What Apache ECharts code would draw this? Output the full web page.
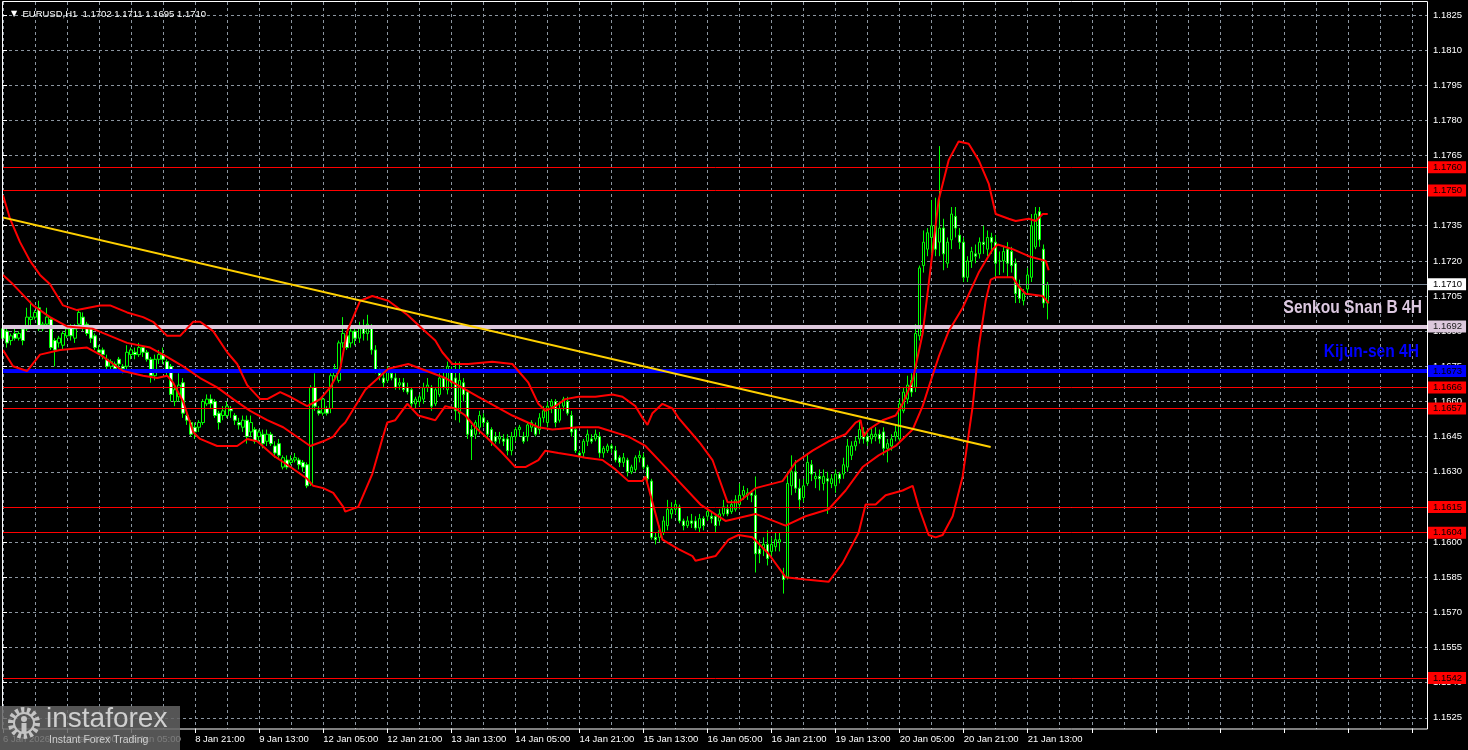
<!DOCTYPE html>
<html><head><meta charset="utf-8">
<script src="https://cdn.jsdelivr.net/npm/echarts@6/dist/echarts.min.js"></script>
<style>html,body{margin:0;padding:0;background:#000}#c{width:1468px;height:750px}</style>
</head><body><div id="c"></div>
<script>
// ---------- DATA (EURUSD H1) ----------
const openP = [
1.1691,1.1690,1.1686,1.1689,1.1687,1.1691,1.1691,1.1695,1.1696,1.1700,
1.1691,1.1693,1.1695,1.1686,1.1685,1.1684,1.1688,1.1692,1.1687,1.1693,
1.1696,1.1693,1.1691,1.1688,1.1682,1.1682,1.1678,1.1675,1.1676,1.1678,
1.1675,1.1675,1.1680,1.1681,1.1680,1.1683,1.1681,1.1678,1.1671,1.1678,
1.1680,1.1677,1.1675,1.1660,1.1662,1.1668,1.1654,1.1651,1.1649,1.1649,
1.1651,1.1659,1.1661,1.1660,1.1655,1.1654,1.1654,1.1657,1.1654,1.1651,
1.1649,1.1652,1.1647,1.1648,1.1645,1.1646,1.1643,1.1646,1.1641,1.1642,
1.1632,1.1635,1.1634,1.1635,1.1635,1.1634,1.1633,1.1625,1.1666,1.1656,
1.1655,1.1657,1.1657,1.1671,1.1669,1.1685,1.1688,1.1685,1.1690,1.1687,
1.1692,1.1689,1.1692,1.1682,1.1672,1.1670,1.1669,1.1672,1.1670,1.1667,
1.1668,1.1666,1.1665,1.1659,1.1660,1.1661,1.1666,1.1666,1.1659,1.1663,
1.1670,1.1665,1.1673,1.1670,1.1655,1.1668,1.1664,1.1648,1.1646,1.1649,
1.1653,1.1651,1.1648,1.1645,1.1644,1.1644,1.1644,1.1639,1.1645,1.1648,
1.1645,1.1645,1.1649,1.1649,1.1648,1.1653,1.1651,1.1658,1.1660,1.1652,
1.1658,1.1660,1.1654,1.1648,1.1638,1.1638,1.1643,1.1644,1.1644,1.1645,
1.1638,1.1639,1.1641,1.1639,1.1636,1.1634,1.1635,1.1630,1.1631,1.1636,
1.1636,1.1632,1.1626,1.1602,1.1602,1.1604,1.1607,1.1612,1.1614,1.1615,
1.1609,1.1607,1.1609,1.1609,1.1606,1.1610,1.1611,1.1611,1.1611,1.1609,
1.1612,1.1614,1.1613,1.1614,1.1616,1.1620,1.1620,1.1621,1.1620,1.1597,
1.1597,1.1599,1.1596,1.1598,1.1600,1.1586,1.1585,1.1624,1.1630,1.1623,
1.1619,1.1625,1.1633,1.1627,1.1628,1.1625,1.1627,1.1625,1.1624,1.1629,
1.1629,1.1632,1.1637,1.1641,1.1644,1.1647,1.1645,1.1644,1.1645,1.1646,
1.1647,1.1640,1.1641,1.1645,1.1644,1.1656,1.1661,1.1669,1.1666,1.1688,
1.1718,1.1725,1.1730,1.1735,1.1728,1.1734,1.1719,1.1729,1.1739,1.1731,
1.1728,1.1713,1.1720,1.1723,1.1723,1.1728,1.1725,1.1730,1.1728,1.1720,
1.1720,1.1725,1.1724,1.1719,1.1709,1.1703,1.1708,1.1713,1.1726,1.1741,
1.1725,1.1702];
const highP = [
1.1692,1.1691,1.1689,1.1691,1.1690,1.1692,1.1700,1.1703,1.1699,1.1703,
1.1694,1.1700,1.1696,1.1687,1.1688,1.1690,1.1692,1.1693,1.1693,1.1699,
1.1698,1.1694,1.1692,1.1689,1.1684,1.1683,1.1680,1.1678,1.1677,1.1679,
1.1676,1.1684,1.1683,1.1683,1.1685,1.1684,1.1682,1.1679,1.1680,1.1682,
1.1683,1.1678,1.1676,1.1667,1.1672,1.1670,1.1656,1.1652,1.1651,1.1652,
1.1661,1.1663,1.1663,1.1661,1.1656,1.1658,1.1660,1.1658,1.1655,1.1653,
1.1654,1.1654,1.1654,1.1649,1.1648,1.1648,1.1648,1.1647,1.1643,1.1644,
1.1637,1.1637,1.1637,1.1638,1.1636,1.1635,1.1634,1.1667,1.1672,1.1658,
1.1662,1.1658,1.1672,1.1676,1.1686,1.1696,1.1690,1.1692,1.1692,1.1694,
1.1695,1.1697,1.1693,1.1684,1.1674,1.1672,1.1675,1.1674,1.1672,1.1670,
1.1670,1.1668,1.1666,1.1662,1.1663,1.1668,1.1670,1.1667,1.1666,1.1672,
1.1674,1.1677,1.1675,1.1677,1.1677,1.1670,1.1665,1.1650,1.1652,1.1656,
1.1655,1.1652,1.1649,1.1647,1.1647,1.1646,1.1646,1.1647,1.1649,1.1650,
1.1647,1.1651,1.1652,1.1651,1.1655,1.1658,1.1660,1.1661,1.1661,1.1660,
1.1662,1.1662,1.1656,1.1649,1.1639,1.1644,1.1648,1.1646,1.1648,1.1647,
1.1641,1.1642,1.1642,1.1641,1.1637,1.1638,1.1636,1.1633,1.1637,1.1639,
1.1638,1.1633,1.1627,1.1604,1.1607,1.1611,1.1618,1.1617,1.1618,1.1616,
1.1610,1.1611,1.1612,1.1611,1.1612,1.1611,1.1615,1.1613,1.1612,1.1614,
1.1618,1.1616,1.1618,1.1620,1.1625,1.1624,1.1623,1.1622,1.1628,1.1601,
1.1602,1.1605,1.1602,1.1604,1.1604,1.1589,1.1630,1.1637,1.1635,1.1627,
1.1627,1.1638,1.1635,1.1630,1.1631,1.1631,1.1630,1.1629,1.1631,1.1630,
1.1636,1.1644,1.1643,1.1645,1.1652,1.1649,1.1647,1.1649,1.1649,1.1648,
1.1649,1.1644,1.1646,1.1650,1.1661,1.1666,1.1671,1.1672,1.1693,1.1718,
1.1733,1.1734,1.1746,1.1747,1.1769,1.1738,1.1730,1.1743,1.1743,1.1734,
1.1730,1.1722,1.1726,1.1727,1.1730,1.1735,1.1733,1.1732,1.1731,1.1724,
1.1726,1.1728,1.1726,1.1721,1.1712,1.1708,1.1717,1.1740,1.1743,1.1743,
1.1727,1.1711];
const lowP = [
1.1685,1.1683,1.1684,1.1686,1.1686,1.1684,1.1690,1.1691,1.1695,1.1690,
1.1690,1.1692,1.1682,1.1675,1.1683,1.1682,1.1687,1.1686,1.1685,1.1691,
1.1690,1.1688,1.1685,1.1682,1.1680,1.1678,1.1673,1.1673,1.1673,1.1673,
1.1672,1.1673,1.1678,1.1678,1.1679,1.1679,1.1677,1.1668,1.1669,1.1676,
1.1676,1.1671,1.1660,1.1658,1.1660,1.1653,1.1650,1.1645,1.1644,1.1647,
1.1650,1.1658,1.1657,1.1653,1.1648,1.1652,1.1653,1.1653,1.1650,1.1648,
1.1647,1.1642,1.1645,1.1642,1.1643,1.1640,1.1641,1.1641,1.1636,1.1636,
1.1631,1.1631,1.1633,1.1634,1.1631,1.1630,1.1623,1.1624,1.1656,1.1654,
1.1654,1.1654,1.1655,1.1670,1.1668,1.1683,1.1682,1.1683,1.1684,1.1685,
1.1686,1.1686,1.1680,1.1672,1.1669,1.1666,1.1668,1.1669,1.1665,1.1665,
1.1664,1.1663,1.1657,1.1657,1.1658,1.1659,1.1664,1.1656,1.1658,1.1662,
1.1665,1.1663,1.1666,1.1652,1.1651,1.1660,1.1644,1.1635,1.1644,1.1646,
1.1649,1.1644,1.1641,1.1642,1.1642,1.1641,1.1637,1.1637,1.1643,1.1645,
1.1642,1.1643,1.1647,1.1645,1.1646,1.1651,1.1649,1.1655,1.1649,1.1651,
1.1656,1.1654,1.1645,1.1638,1.1636,1.1636,1.1641,1.1642,1.1643,1.1636,
1.1636,1.1638,1.1638,1.1634,1.1632,1.1632,1.1628,1.1629,1.1630,1.1634,
1.1631,1.1625,1.1601,1.1599,1.1600,1.1603,1.1605,1.1610,1.1612,1.1608,
1.1605,1.1606,1.1606,1.1605,1.1604,1.1605,1.1609,1.1608,1.1604,1.1607,
1.1611,1.1611,1.1612,1.1613,1.1614,1.1618,1.1618,1.1617,1.1587,1.1591,
1.1594,1.1590,1.1594,1.1596,1.1596,1.1578,1.1584,1.1620,1.1621,1.1614,
1.1617,1.1624,1.1626,1.1623,1.1622,1.1622,1.1612,1.1623,1.1621,1.1625,
1.1627,1.1630,1.1635,1.1639,1.1642,1.1642,1.1641,1.1642,1.1643,1.1642,
1.1637,1.1634,1.1639,1.1643,1.1643,1.1655,1.1659,1.1662,1.1664,1.1686,
1.1715,1.1722,1.1723,1.1722,1.1722,1.1716,1.1717,1.1725,1.1730,1.1725,
1.1711,1.1711,1.1717,1.1719,1.1721,1.1723,1.1722,1.1723,1.1713,1.1714,
1.1715,1.1713,1.1715,1.1702,1.1702,1.1701,1.1706,1.1711,1.1725,1.1726,
1.1700,1.1695];
const closeP = [
1.1687,1.1685,1.1688,1.1687,1.1689,1.1686,1.1696,1.1696,1.1698,1.1691,
1.1693,1.1696,1.1683,1.1682,1.1687,1.1689,1.1691,1.1688,1.1691,1.1698,
1.1692,1.1689,1.1687,1.1683,1.1681,1.1680,1.1675,1.1677,1.1674,1.1676,
1.1674,1.1681,1.1682,1.1680,1.1683,1.1681,1.1678,1.1671,1.1678,1.1680,
1.1678,1.1673,1.1663,1.1665,1.1667,1.1655,1.1652,1.1646,1.1647,1.1651,
1.1660,1.1661,1.1659,1.1654,1.1651,1.1656,1.1658,1.1656,1.1652,1.1650,
1.1652,1.1645,1.1651,1.1643,1.1647,1.1642,1.1646,1.1642,1.1638,1.1637,
1.1636,1.1632,1.1635,1.1636,1.1633,1.1632,1.1624,1.1666,1.1658,1.1655,
1.1661,1.1655,1.1671,1.1674,1.1685,1.1689,1.1683,1.1690,1.1687,1.1692,
1.1689,1.1693,1.1682,1.1673,1.1671,1.1668,1.1673,1.1670,1.1666,1.1668,
1.1665,1.1664,1.1659,1.1661,1.1662,1.1666,1.1667,1.1658,1.1665,1.1670,
1.1666,1.1675,1.1668,1.1656,1.1669,1.1663,1.1646,1.1645,1.1651,1.1654,
1.1651,1.1646,1.1643,1.1643,1.1645,1.1643,1.1639,1.1645,1.1648,1.1649,
1.1643,1.1650,1.1651,1.1646,1.1653,1.1656,1.1658,1.1660,1.1651,1.1657,
1.1661,1.1655,1.1647,1.1639,1.1637,1.1643,1.1646,1.1643,1.1646,1.1638,
1.1640,1.1641,1.1640,1.1635,1.1634,1.1636,1.1630,1.1632,1.1636,1.1637,
1.1632,1.1627,1.1602,1.1601,1.1605,1.1609,1.1614,1.1614,1.1616,1.1609,
1.1607,1.1609,1.1608,1.1606,1.1610,1.1607,1.1613,1.1610,1.1607,1.1612,
1.1615,1.1612,1.1616,1.1618,1.1620,1.1622,1.1621,1.1620,1.1595,1.1595,
1.1599,1.1593,1.1599,1.1601,1.1601,1.1584,1.1625,1.1630,1.1623,1.1618,
1.1624,1.1634,1.1629,1.1628,1.1627,1.1628,1.1626,1.1627,1.1629,1.1627,
1.1633,1.1641,1.1641,1.1643,1.1648,1.1644,1.1643,1.1646,1.1646,1.1644,
1.1640,1.1642,1.1644,1.1647,1.1659,1.1664,1.1667,1.1664,1.1689,1.1717,
1.1728,1.1732,1.1735,1.1725,1.1734,1.1723,1.1728,1.1740,1.1734,1.1728,
1.1713,1.1720,1.1724,1.1722,1.1728,1.1727,1.1730,1.1728,1.1719,1.1720,
1.1724,1.1719,1.1718,1.1706,1.1704,1.1706,1.1714,1.1735,1.1740,1.1729,
1.1702,1.1710];

// Bollinger-style envelope (bar position, price)
const upperBand = [[0,1.1748],[1.75,1.1738],[4.25,1.1728],[6.75,1.1720],[9.25,1.1714],[11.75,1.1710],[15,1.1701],[18.5,1.1699],[24.25,1.1701],[26.75,1.1701],[31,1.1698],[35,1.1696],[37.5,1.1694],[41,1.1688],[44.25,1.1688],[47.5,1.1694],[49.25,1.1694],[52.5,1.1690],[56,1.1681],[58.5,1.1676],[61,1.1667],[64.25,1.1661],[66,1.1661],[69.25,1.1664],[71.75,1.1662],[76,1.1658],[79.25,1.1661],[81.75,1.1666],[84.25,1.1674],[86,1.1690],[86.75,1.1693],[89.25,1.1703],[92.25,1.1705],[96.25,1.1703],[101,1.1697],[104.75,1.1691],[108,1.1686],[109.75,1.1681],[112.25,1.1676],[116.25,1.1676],[122.25,1.1677],[127.25,1.1676],[128.75,1.1673],[131.25,1.1668],[133.75,1.1659],[135.5,1.1656],[138,1.1658],[140.5,1.1661],[143.75,1.1662],[148,1.1662],[152.25,1.1663],[154.75,1.1662],[158,1.1658],[159.75,1.1653],[161,1.1650],[162.25,1.1655],[164.75,1.1659],[167.25,1.1657],[168.75,1.1653],[172.25,1.1646],[174.25,1.1642],[177.25,1.1635],[181,1.1617],[183.75,1.1617],[188,1.1623],[194.75,1.1626],[198,1.1634],[202.25,1.1639],[206.25,1.1643],[210.5,1.1646],[213,1.1651],[214.25,1.1652],[215,1.1645],[216.25,1.1648],[219.75,1.1652],[223,1.1654],[224.75,1.1659],[227.25,1.1669],[229.75,1.1689],[231.25,1.1710],[233.75,1.1746],[236.25,1.1763],[238.75,1.1771],[241.25,1.1770],[243.75,1.1763],[246.25,1.1753],[248,1.1740],[251.25,1.1738],[253,1.1737],[256.25,1.1738],[258,1.1737],[259.75,1.1740],[261,1.1740]];
const middleBand = [[0,1.1714],[2.5,1.1710],[7.5,1.1701],[11.75,1.1696],[16,1.1692],[22.5,1.1691],[26.75,1.1688],[31,1.1685],[36.75,1.1683],[41,1.1679],[45,1.1675],[49.25,1.1670],[53.5,1.1666],[57.5,1.1661],[61.75,1.1656],[66,1.1652],[70,1.1649],[74.25,1.1644],[76.75,1.1641],[80,1.1643],[82.5,1.1645],[84.25,1.1649],[85.5,1.1651],[90.5,1.1665],[96.25,1.1674],[101.25,1.1676],[110.5,1.1670],[118.75,1.1662],[127.25,1.1654],[133.75,1.1649],[137.25,1.1648],[143.75,1.1649],[148.75,1.1649],[156.25,1.1645],[160.5,1.1641],[165.5,1.1632],[174.25,1.1616],[180.5,1.1609],[188,1.1612],[195.5,1.1607],[200.5,1.1611],[206.25,1.1614],[210.5,1.1622],[214.75,1.1632],[218.75,1.1637],[223,1.1641],[227.25,1.1648],[229.75,1.1658],[231.25,1.1666],[233.75,1.1679],[236.25,1.1690],[239.75,1.1700],[243.75,1.1715],[247.25,1.1725],[248.5,1.1727],[252.25,1.1725],[256.25,1.1722],[260.5,1.1720],[261.25,1.1716]];
const lowerBand = [[0,1.1682],[2.5,1.1675],[6,1.1673],[9.25,1.1680],[14.25,1.1682],[21,1.1683],[24.25,1.1680],[27.5,1.1676],[30,1.1673],[35,1.1671],[38.5,1.1670],[41,1.1671],[42.5,1.1668],[45,1.1660],[47.5,1.1647],[49.25,1.1644],[53.5,1.1641],[58.5,1.1641],[61,1.1644],[63.5,1.1643],[67.5,1.1637],[71,1.1633],[76,1.1627],[77.5,1.1624],[80,1.1623],[82.5,1.1621],[85,1.1615],[85.5,1.1613],[88.75,1.1615],[92.25,1.1629],[94.75,1.1644],[96,1.1651],[98,1.1652],[101,1.1659],[103.75,1.1654],[108,1.1652],[110.5,1.1658],[113,1.1657],[115.5,1.1654],[118,1.1649],[121.25,1.1644],[124.75,1.1638],[128,1.1632],[130.5,1.1632],[133.75,1.1635],[135.5,1.1639],[138.75,1.1638],[142.25,1.1637],[145.5,1.1636],[149.75,1.1635],[153,1.1631],[156.25,1.1626],[159.75,1.1626],[160.5,1.1628],[162.25,1.1617],[164.75,1.1601],[168.75,1.1597],[172.25,1.1594],[173,1.1592],[178,1.1594],[181.25,1.1601],[183.75,1.1603],[187.25,1.1602],[191.25,1.1595],[195.5,1.1585],[200.5,1.1584],[206.25,1.1583],[209.75,1.1591],[213.75,1.1604],[215.5,1.1616],[218,1.1616],[220.5,1.1620],[224.75,1.1622],[227.25,1.1624],[228.75,1.1615],[231.25,1.1603],[233,1.1602],[234.75,1.1603],[237.25,1.1611],[239.75,1.1628],[242.25,1.1658],[243.75,1.1683],[245.5,1.1703],[246.75,1.1712],[248,1.1713],[252.25,1.1713],[253.75,1.1709],[255.5,1.1706],[259.75,1.1705],[261.25,1.1702]];
const trendLine = [[-0.75,1.17388],[246.75,1.16406]];

const redLevels = [1.1760,1.1750,1.1666,1.1657,1.1615,1.1604,1.1542];
const bidLevel = 1.1710;
const senkouLevel = 1.1692;
const kijunLevel = 1.1673;
const senkouText = 'Senkou Snan B 4H';
const kijunText = 'Kijun-sen 4H';

const yTicks = [1.1525,1.1540,1.1555,1.1570,1.1585,1.1600,1.1615,1.1630,1.1645,1.1660,1.1675,1.1690,1.1705,1.1720,1.1735,1.1750,1.1765,1.1780,1.1795,1.1810,1.1825];
const xTickLabels = ['6 Jan 2026','7 Jan 13:00','8 Jan 05:00','8 Jan 21:00','9 Jan 13:00','12 Jan 05:00','12 Jan 21:00','13 Jan 13:00','14 Jan 05:00','14 Jan 21:00','15 Jan 13:00','16 Jan 05:00','16 Jan 21:00','19 Jan 13:00','20 Jan 05:00','20 Jan 21:00','21 Jan 13:00'];
const titleText = 'EURUSD,H1  1.1702 1.1711 1.1695 1.1710';
const SLOTS = 357; // bar slots across the plot (incl. empty space at right)

// ---------- CHART ----------
const cats = [];
for (let i = 0; i < SLOTS; i++) cats.push(String(i));
const candles = closeP.map((c, i) => [openP[i], c, lowP[i], highP[i]]);
const FONT = 'Liberation Sans';
const gridLine = { color: '#8c96a0', width: 1, type: [3, 3] };

const lvlLabel = (bg, fg) => ({
  show: true, position: 'end', distance: 0,
  formatter: p => Number(p.value).toFixed(4),
  backgroundColor: bg, color: fg, fontFamily: FONT, fontSize: 9.5,
  padding: [2, 4, 1, 5], lineHeight: 9
});
const levelData = [];
redLevels.forEach(v => levelData.push({ yAxis: v, lineStyle: { color: '#ff0000', width: 1, type: 'solid' }, label: lvlLabel('#ff0000', '#000') }));
levelData.push({ yAxis: bidLevel, lineStyle: { color: '#7a8896', width: 1, type: 'solid' }, label: lvlLabel('#ffffff', '#000') });
levelData.push({ yAxis: senkouLevel, lineStyle: { color: '#dcc8dc', width: 4, type: 'solid' }, label: lvlLabel('#dcc8dc', '#222') });
levelData.push({ yAxis: kijunLevel, lineStyle: { color: '#0000ff', width: 4, type: 'solid' }, label: lvlLabel('#0000ff', '#000') });

const band = (data) => ({
  type: 'line', xAxisIndex: 1, yAxisIndex: 0, data, symbol: 'none', z: 5,
  lineStyle: { color: '#ff0000', width: 2 }, silent: true, animation: false
});

const staticGraphic = [
  { id: 'frame', type: 'rect', z: 100, silent: true, shape: { x: 2.5, y: 1.5, width: 1425, height: 727.5 },
    style: { fill: 'none', stroke: '#ffffff', lineWidth: 1 } },
  { id: 'wm', type: 'rect', z: 101, silent: true, shape: { x: 0, y: 706, width: 180, height: 44 },
    style: { fill: 'rgba(100,100,100,0.85)' } },
  { id: 'g1', type: 'circle', z: 102, silent: true, shape: { cx: 24, cy: 723, r: 13 },
    style: { fill: 'none', stroke: '#c4c4c4', lineWidth: 6, lineDash: [3.2, 2.6] } },
  { id: 'g2', type: 'circle', z: 102, silent: true, shape: { cx: 24, cy: 723, r: 10 },
    style: { fill: 'none', stroke: '#c4c4c4', lineWidth: 2 } },
  { id: 'g3', type: 'circle', z: 102, silent: true, shape: { cx: 24, cy: 719, r: 3 },
    style: { fill: '#c4c4c4' } },
  { id: 'g4', type: 'rect', z: 102, silent: true, shape: { x: 21.5, y: 723, width: 5, height: 10 },
    style: { fill: '#c4c4c4' } },
  { id: 'wt1', type: 'text', z: 102, silent: true, x: 46, y: 705,
    style: { text: 'instaforex', fill: '#cfcfcf', font: 'normal 28px "Liberation Sans"' } },
  { id: 'wt2', type: 'text', z: 102, silent: true, x: 49, y: 735,
    style: { text: 'Instant Forex Trading', fill: '#cfcfcf', font: 'normal 10.5px "Liberation Sans"' } }
];

const option = {
  backgroundColor: '#000000',
  animation: false,
  title: {
    text: '{t|▼}  ' + titleText, left: 6, top: 4,
    textStyle: { color: '#ffffff', fontSize: 9.5, fontWeight: 'normal', fontFamily: FONT,
      rich: { t: { fontSize: 8, color: '#ffffff', fontFamily: 'DejaVu Sans' } } }
  },
  grid: { left: 3, right: 40, top: 2, bottom: 21, containLabel: false },
  xAxis: [{
    type: 'category', data: cats, boundaryGap: false,
    axisLine: { show: false },
    axisTick: { show: true, interval: 15, length: 4, lineStyle: { color: '#ffffff' } },
    axisLabel: { interval: 15, align: 'left', color: '#ffffff', fontSize: 9.5, fontFamily: FONT, margin: 5,
      formatter: (v, idx) => (idx % 16 === 0 && idx / 16 < xTickLabels.length) ? xTickLabels[idx / 16] : '' },
    splitLine: { show: true, interval: 7, lineStyle: gridLine }
  }, {
    type: 'value', min: 0, max: SLOTS - 1, show: false
  }],
  yAxis: [{
    type: 'value', position: 'right', min: 1.15202, max: 1.18305, scale: true,
    axisLine: { show: false },
    axisTick: { show: true, customValues: yTicks, length: 4, lineStyle: { color: '#ffffff' } },
    axisLabel: { customValues: yTicks, color: '#ffffff', fontSize: 9.5, fontFamily: FONT, margin: 5,
      formatter: v => Number(v).toFixed(4) },
    splitLine: { show: true, lineStyle: gridLine }
  }],
  series: [
    {
      type: 'candlestick', xAxisIndex: 0, yAxisIndex: 0, data: candles, barWidth: 3, z: 2,
      itemStyle: { color: '#000000', color0: '#ffffff', borderColor: '#00ff00', borderColor0: '#00ff00',
        borderColorDoji: '#00ff00', borderWidth: 1 },
      silent: true, animation: false
    },
    {
      type: 'line', xAxisIndex: 0, yAxisIndex: 0, data: [], z: 3, silent: true,
      markLine: { symbol: 'none', silent: true, animation: false, precision: 4, data: levelData }
    },
    band(upperBand), band(middleBand), band(lowerBand),
    {
      type: 'line', xAxisIndex: 1, yAxisIndex: 0, data: trendLine, symbol: 'none', z: 6,
      lineStyle: { color: '#ffd000', width: 2 }, silent: true, animation: false
    }
  ],
  graphic: staticGraphic
};

const chart = echarts.init(document.getElementById('c'), null, { renderer: 'canvas' });
chart.setOption(option);

// Object captions placed through the chart's own scales (right end of plot, above their level lines)
const rightX = chart.convertToPixel({ xAxisIndex: 1 }, SLOTS - 1);
const ySenkou = chart.convertToPixel({ yAxisIndex: 0 }, senkouLevel);
const yKijun = chart.convertToPixel({ yAxisIndex: 0 }, kijunLevel);
chart.setOption({
  graphic: staticGraphic.concat([
    { id: 'senkou', type: 'text', z: 90, silent: true, x: rightX - 6, y: ySenkou - 9, scaleX: 0.82,
      style: { text: senkouText, fill: '#dcc8e0', font: 'bold 19px "Liberation Sans"', align: 'right', verticalAlign: 'bottom',
        textShadowColor: '#6b1a1a', textShadowOffsetX: 1.2, textShadowOffsetY: 1, textShadowBlur: 0 } },
    { id: 'kijun', type: 'text', z: 90, silent: true, x: rightX - 9, y: yKijun - 10, scaleX: 0.82,
      style: { text: kijunText, fill: '#0000ff', font: 'bold 19px "Liberation Sans"', align: 'right', verticalAlign: 'bottom' } }
  ])
});
</script>
</body></html>
